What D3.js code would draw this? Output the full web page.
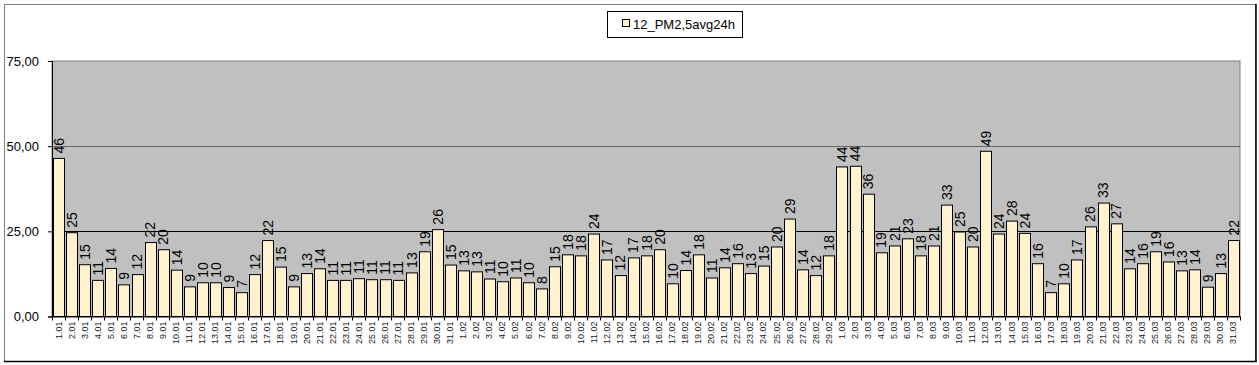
<!DOCTYPE html>
<html><head><meta charset="utf-8">
<script src="https://cdn.jsdelivr.net/npm/d3@7"></script>
<style>body{margin:0;background:#fff}svg{display:block}</style>
</head><body><svg id="c" width="1259" height="365"></svg>
<script>
const seriesName = "12_PM2,5avg24h";
const janValues = [46.4,24.6,15.2,10.6,14.1,9.3,12.3,21.7,19.6,13.6,8.7,9.9,9.9,8.5,7.0,12.3,22.3,14.5,8.7,12.6,14.0,10.6,10.6,11.1,10.8,10.8,10.6,12.8,19.0,25.5,15.1];
const febValues = [13.4,13.1,11.0,10.2,11.3,9.9,8.1,14.6,18.1,17.8,24.2,16.6,12.0,17.2,17.8,19.6,9.6,13.5,18.1,11.3,14.3,15.5,12.6,14.8,20.4,28.6,13.7,12.0,17.8];
const marValues = [43.9,44.1,35.9,18.7,20.7,22.8,17.8,20.7,32.7,24.8,20.4,48.5,24.2,28.0,24.4,15.5,7.0,9.6,16.6,26.3,33.3,27.2,14.0,15.5,19.0,16.0,13.4,13.7,8.6,12.6,22.3];
const yTicks = [0,25,50,75];

const categories = [];
janValues.forEach((v,i)=>categories.push((i+1)+".01"));
febValues.forEach((v,i)=>categories.push((i+1)+".02"));
marValues.forEach((v,i)=>categories.push((i+1)+".03"));
const values = janValues.concat(febValues, marValues);
const data = categories.map((c,i)=>({c, v: values[i]}));

const svg = d3.select("#c");
const m = {l:52, r:1240, t:61, b:316.5};
const FONT = "Arial, 'Liberation Sans', sans-serif";

// chart frame
svg.append("rect").attr("x",4.5).attr("y",4.5).attr("width",1251).attr("height",357).attr("fill","#fff").attr("stroke","#808080");
svg.append("line").attr("x1",4).attr("x2",1256.5).attr("y1",361.5).attr("y2",361.5).attr("stroke","#000").attr("stroke-width",1.5);
svg.append("line").attr("x1",1256).attr("x2",1256).attr("y1",4).attr("y2",362).attr("stroke","#000").attr("stroke-width",1.5);

const x = d3.scaleBand().domain(categories).range([m.l, m.r]).paddingInner(0.18).paddingOuter(0.09);
const y = d3.scaleLinear().domain([0,75]).range([m.b, m.t]);

// plot area
svg.append("rect").attr("x",m.l).attr("y",m.t).attr("width",m.r-m.l).attr("height",m.b-m.t)
  .attr("fill","#c0c0c0").attr("stroke","#808080");

// gridlines
svg.append("g").selectAll("line").data(yTicks.filter(t=>t>0 && t<75)).join("line")
  .attr("x1",m.l).attr("x2",m.r)
  .attr("y1",d=>Math.round(y(d))+0.5).attr("y2",d=>Math.round(y(d))+0.5)
  .attr("stroke",d=>d===25?"#000":"#666").attr("stroke-width",1);

// bars
svg.append("g").selectAll("rect").data(data).join("rect")
  .attr("x",d=>Math.round(x(d.c))+0.5).attr("width",Math.round(x.bandwidth()))
  .attr("y",d=>y(d.v)).attr("height",d=>m.b-y(d.v))
  .attr("fill","#fff2cc").attr("stroke","#000").attr("stroke-width",1);

// value labels
svg.append("g").selectAll("text").data(data).join("text")
  .attr("transform",d=>`translate(${x(d.c)+x.bandwidth()/2+5.5},${y(d.v)-5}) rotate(-90)`)
  .attr("font-family",FONT).attr("font-size",14).attr("fill","#000")
  .text(d=>Math.round(d.v));

// y axis
const yAxis = d3.axisLeft(y).tickValues(yTicks).tickSize(4).tickPadding(9)
  .tickFormat(d=>d3.format(".2f")(d).replace(".",","));
const ga = svg.append("g").attr("transform",`translate(${m.l},0)`).call(yAxis);
ga.select(".domain").attr("stroke","#000");
ga.selectAll(".tick line").attr("stroke","#000");
ga.selectAll(".tick text").attr("font-family",FONT).attr("font-size",13).attr("fill","#000");

// x axis
const xAxis = d3.axisBottom(x).tickSize(0).tickPadding(0);
const gx = svg.append("g").attr("transform",`translate(0,${m.b})`).call(xAxis);
gx.select(".domain").attr("stroke","#000");
gx.selectAll(".tick text")
  .attr("transform","translate(3,5) rotate(-90)")
  .attr("text-anchor","end").attr("dy","0")
  .attr("font-family",FONT).attr("font-size",9).attr("fill","#222");
// tick marks at category boundaries
const step = x.step();
const bounds = d3.range(categories.length+1).map(i=> i===0 ? m.l : x(categories[i-1]) + x.bandwidth() + (step - x.bandwidth())/2);
svg.append("g").selectAll("line").data(bounds).join("line")
  .attr("x1",d=>Math.round(d)+0.5).attr("x2",d=>Math.round(d)+0.5)
  .attr("y1",m.b).attr("y2",m.b+4).attr("stroke","#000");

// legend
const lg = svg.append("g");
lg.append("rect").attr("x",607.5).attr("y",11.5).attr("width",135).attr("height",26).attr("fill","#fff").attr("stroke","#000");
lg.append("rect").attr("x",622.5).attr("y",19.5).attr("width",7).attr("height",7).attr("fill","#fff2cc").attr("stroke","#000");
lg.append("text").attr("x",633).attr("y",29).attr("font-family",FONT).attr("font-size",13).attr("fill","#000").text(seriesName);
</script></body></html>
